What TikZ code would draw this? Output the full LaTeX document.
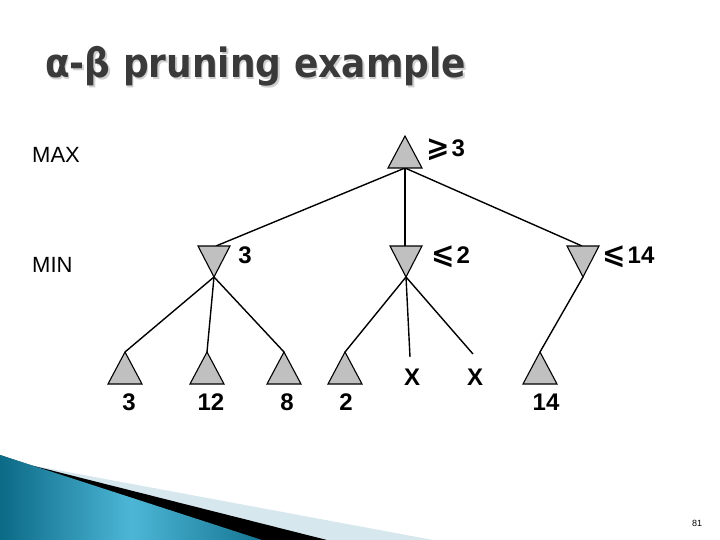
\documentclass[tikz,border=0pt]{standalone}
\usepackage{graphicx}
\usepackage{fontspec}
\setmainfont{Liberation Sans}
\newfontfamily\titlefont{DejaVu Sans}
\newfontfamily\symfont{DejaVu Sans}
\newcommand{\relsym}[1]{{\symfont\fontsize{28}{28}\selectfont #1}\kern2pt}
\definecolor{trigray}{HTML}{C0C0C0}
\definecolor{titlegray}{HTML}{3A3A3A}
\definecolor{shadowgray}{HTML}{D0D0D0}
\definecolor{tealdark}{HTML}{0B6A86}
\definecolor{teallight}{HTML}{4DB6D6}
\definecolor{paleblue}{HTML}{D6E7EE}
\begin{document}
\begin{tikzpicture}[x=1pt,y=-1pt,
  tri/.style={draw=black, fill=trigray, line width=1.1pt, line join=miter},
  edge/.style={draw=black, line width=1.4pt},
  lvl/.style={font=\fontsize{22}{24}\selectfont, anchor=base west, inner sep=0pt},
  val/.style={font=\fontsize{24}{26}\selectfont\bfseries, anchor=base, inner sep=0pt},
  ttl/.style={font=\titlefont\bfseries\fontsize{36}{40}\selectfont, anchor=base west, inner sep=0pt}
]
\useasboundingbox (0,0) rectangle (720,540);

% bottom-left decoration
\fill[paleblue] (0,455) -- (30,465) -- (433,540) -- (0,540) -- cycle;
\fill[black] (0,455) -- (30,465) -- (327,540) -- (0,540) -- cycle;
\shade[left color=tealdark, right color=tealdark!85!teallight, middle color=teallight]
  (0,455) -- (262,540) -- (0,540) -- cycle;

% title
\node[ttl, text=shadowgray] (titleshadow) at (46.5,79.5) {\scalebox{1}[1.12]{α-β pruning example}};
\node[ttl, text=titlegray] (title) at (45,78) {\scalebox{1}[1.12]{α-β pruning example}};

% level labels
\node[lvl] (maxl) at (32,163) {MAX};
\node[lvl] (minl) at (32,272) {MIN};

% coordinates
\coordinate (r) at (405,136);   % root apex
\coordinate (rb) at (405,168);  % root base centre
\coordinate (m1) at (214,277);  % MIN apexes (bottom)
\coordinate (m2) at (406,277);
\coordinate (m3) at (583,277);
\coordinate (m1t) at (216,246);
\coordinate (m2t) at (405,246);
\coordinate (m3t) at (582,246);
\coordinate (l1) at (125,352);
\coordinate (l2) at (207,352);
\coordinate (l3) at (284,352);
\coordinate (l4) at (345,352);
\coordinate (x1e) at (410,357);
\coordinate (x2e) at (473,354);
\coordinate (l7) at (540,352);

% edges
\draw[edge] (rb) -- (m1t);
\draw[edge] (rb) -- (m2t);
\draw[edge] (rb) -- (m3t);
\draw[edge] (m1) -- (l1);
\draw[edge] (m1) -- (l2);
\draw[edge] (m1) -- (l3);
\draw[edge] (m2) -- (l4);
\draw[edge] (m2) -- (x1e);
\draw[edge] (m2) -- (x2e);
\draw[edge] (m3) -- (l7);

% triangles
\draw[tri] (r) -- ++(-17,32) -- ++(34,0) -- cycle;
\foreach \m in {m1,m2,m3}
  \draw[tri] (\m) -- ++(-16,-31) -- ++(32,0) -- cycle;
\foreach \l in {l1,l2,l3,l4,l7}
  \draw[tri] (\l) -- ++(-17,32) -- ++(34,0) -- cycle;

% values
\node[val, anchor=base west] (rv) at (426,157) {\relsym{⩾}3};
\node[val] (m1v) at (245,263) {3};
\node[val, anchor=base west] (m2v) at (431,263) {\relsym{⩽}2};
\node[val, anchor=base west] (m3v) at (602,263) {\relsym{⩽}14};
\node[val] (v1) at (129,410) {3};
\node[val] (v2) at (211,410) {12};
\node[val] (v3) at (287,410) {8};
\node[val] (v4) at (346,410) {2};
\node[val] (x1) at (412,385) {X};
\node[val] (x2) at (475,385) {X};
\node[val] (v7) at (546,410) {14};

% page number
\node[font=\fontsize{9}{10}\selectfont, inner sep=0pt] (pg) at (697,523) {81};
\end{tikzpicture}
\end{document}
